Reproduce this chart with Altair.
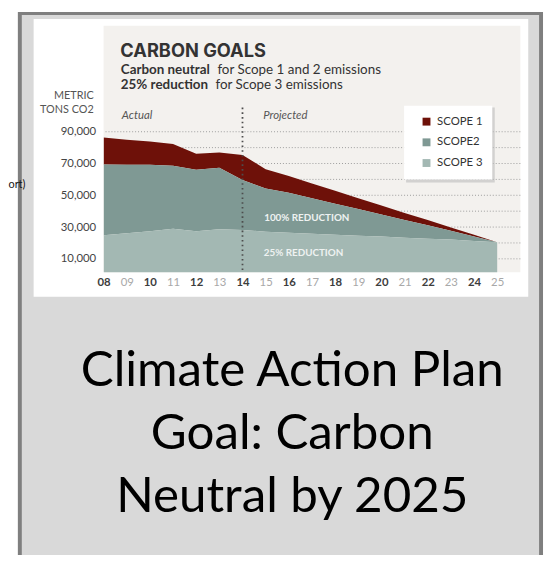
import altair as alt
import pandas as pd

# ---------------- data ----------------
years = [2008, 2009, 2010, 2011, 2012, 2013, 2014, 2015, 2016,
         2017, 2018, 2019, 2020, 2021, 2022, 2023, 2024, 2025]
scope1 = [16900, 15800, 14600, 13700, 10000, 9600, 15800, 12100, 10500,
          9300, 8100, 6800, 5600, 4300, 3400, 2100, 1200, 0]
scope2 = [44500, 43100, 41800, 39700, 38700, 38800, 31500, 27200, 25200,
          22300, 19500, 16700, 13900, 11200, 8400, 5600, 2800, 0]
scope3 = [24900, 26100, 27400, 28900, 27400, 28600, 28100, 27100, 26400,
          25800, 25200, 24600, 24000, 23300, 22700, 22100, 21200, 20400]
series_names = ["SCOPE 1", "SCOPE2", "SCOPE 3"]
series_colors = ["#6e1109", "#7f9994", "#a3b8b3"]
series_opacity = [1, 1, 0.75]
stack_order = [2, 1, 0]
y_tick_values = [10000, 30000, 50000, 70000, 90000]
grid_values = [10000, 20000, 30000, 40000, 50000, 60000, 70000, 80000, 90000]
divider_year = [2014]

rows = []
for i, yr in enumerate(years):
    for name, vals, o in zip(series_names, [scope1, scope2, scope3], stack_order):
        rows.append({"year": yr, "scope": name, "value": vals[i], "ord": o})
df = pd.DataFrame(rows)

one = pd.DataFrame({"a": [0]})
FONT = "Lato"

x_scale = alt.Scale(domain=[2008, 2026], nice=False, zero=False)
y_scale = alt.Scale(domain=[1628, 156667], nice=False, zero=False)

even = "datum.value % 2 == 0"
x_axis = alt.Axis(values=years,
                  labelExpr="substring(toString(datum.value), 2, 4)",
                  domain=False, ticks=False, grid=False, title=None, zindex=1,
                  labelFont=FONT, labelFontSize=11.5, labelPadding=5,
                  labelFlush=False, labelOverlap=False,
                  labelColor={"condition": {"test": even, "value": "#3d3d3d"}, "value": "#a8a8a8"},
                  labelFontWeight={"condition": {"test": even, "value": "bold"}, "value": "normal"})
y_axis = alt.Axis(values=y_tick_values, labelExpr="format(datum.value, ',')",
                  domain=False, title=None,
                  ticks=False, grid=False, labelFont=FONT, zindex=1,
                  labelFontSize=11.5, labelColor="#444444", labelPadding=8)


def rect(x, x2, y, y2, color, **kw):
    return alt.Chart(one).mark_rect(color=color, clip=False, **kw).encode(
        x=alt.value(x), x2=alt.value(x2), y=alt.value(y), y2=alt.value(y2))


def txt(s, x, y, **kw):
    base = dict(align="left", baseline="alphabetic", font=FONT, clip=False)
    base.update(kw)
    return alt.Chart(one).mark_text(**base).encode(
        x=alt.value(x), y=alt.value(y), text=alt.value(s))


frame = rect(-87, 446, -14, 541, "#7f7f7f")
inner = rect(-83, 442, -11, 541, "#d9d9d9")
white_box = rect(-71, 431, -7, 275, "#ffffff")
chart_bg = rect(0, 423, 0, 250, "#f3f1ee")

grid = alt.Chart(pd.DataFrame({"v": grid_values})).mark_rule(
    color="#9c9c9c", strokeDash=[1, 2], strokeWidth=1
).encode(y=alt.Y("v:Q", scale=y_scale, axis=y_axis))

areas = alt.Chart(df).mark_area(clip=True).encode(
    x=alt.X("year:Q", scale=x_scale, axis=x_axis),
    y=alt.Y("value:Q", stack="zero", scale=y_scale, axis=y_axis),
    color=alt.Color("scope:N",
                    scale=alt.Scale(domain=series_names, range=series_colors),
                    legend=alt.Legend(orient="none", legendX=322, legendY=91.5,
                                      title=None, symbolType="square",
                                      symbolSize=64, symbolStrokeWidth=0,
                                      labelFont=FONT, labelFontSize=11.5,
                                      labelColor="#333333", rowPadding=8,
                                      padding=0, labelOffset=5,
                                      direction="vertical")),
    opacity=alt.Opacity("scope:N",
                        scale=alt.Scale(domain=series_names, range=series_opacity)),
    order=alt.Order("ord:Q"),
)

divider = alt.Chart(pd.DataFrame({"year": divider_year})).mark_rule(
    color="#4d4d4d", strokeDash=[1.6, 3.2], strokeWidth=1.8
).encode(x=alt.X("year:Q", scale=x_scale, axis=x_axis),
         y=alt.value(83), y2=alt.value(250))

legend_shadow = rect(307, 397, 83, 159, "#bdbdbd", opacity=0.6)
legend_box = rect(305, 394.5, 81, 156, "#ffffff")

texts = [
    txt("CARBON GOALS", 17, 31.5, font="Inter", fontSize=18.5, fontWeight="bold", color="#333333"),
    txt("Carbon neutral", 17.5, 49, fontSize=13.6, fontWeight="bold", color="#333333"),
    txt("for Scope 1 and 2 emissions", 115.5, 49, fontSize=13.6, color="#333333"),
    txt("25% reduction", 17.5, 64, fontSize=13.6, fontWeight="bold", color="#333333"),
    txt("for Scope 3 emissions", 113.5, 64, fontSize=13.6, color="#333333"),
    txt("METRIC", -10, 74, fontSize=11, align="right", color="#555555"),
    txt("TONS CO2", -10, 88, fontSize=11, align="right", color="#555555"),
    txt("Actual", 18.5, 95, fontSize=11.5, fontStyle="italic", color="#555555"),
    txt("Projected", 162, 95, fontSize=11.5, fontStyle="italic", color="#555555"),
    txt("100% REDUCTION", 163, 198, fontSize=10, fontWeight="bold", color="#eef2f1"),
    txt("25% REDUCTION", 162.6, 234, fontSize=10, fontWeight="bold", color="#eef2f1"),
    txt("Climate Action Plan", 191.5, 366, fontSize=50, align="center", color="#000000"),
    txt("Goal: Carbon", 191.5, 430, fontSize=50, align="center", color="#000000"),
    txt("Neutral by 2025", 191.5, 493, fontSize=50, align="center", color="#000000"),
    txt("ort)", -96.5, 165, fontSize=11, color="#111111"),
]

chart = alt.layer(
    frame, inner, white_box, chart_bg, grid, areas, divider,
    legend_shadow, legend_box, *texts
).properties(
    width=423, height=250,
    padding={"left": 97, "top": 14, "right": 24, "bottom": 283},
    autosize=alt.AutoSizeParams(type="none"),
).configure_view(stroke=None).configure(background="#ffffff")

chart.save("out.html", embed_options={"renderer": "svg", "actions": False})
